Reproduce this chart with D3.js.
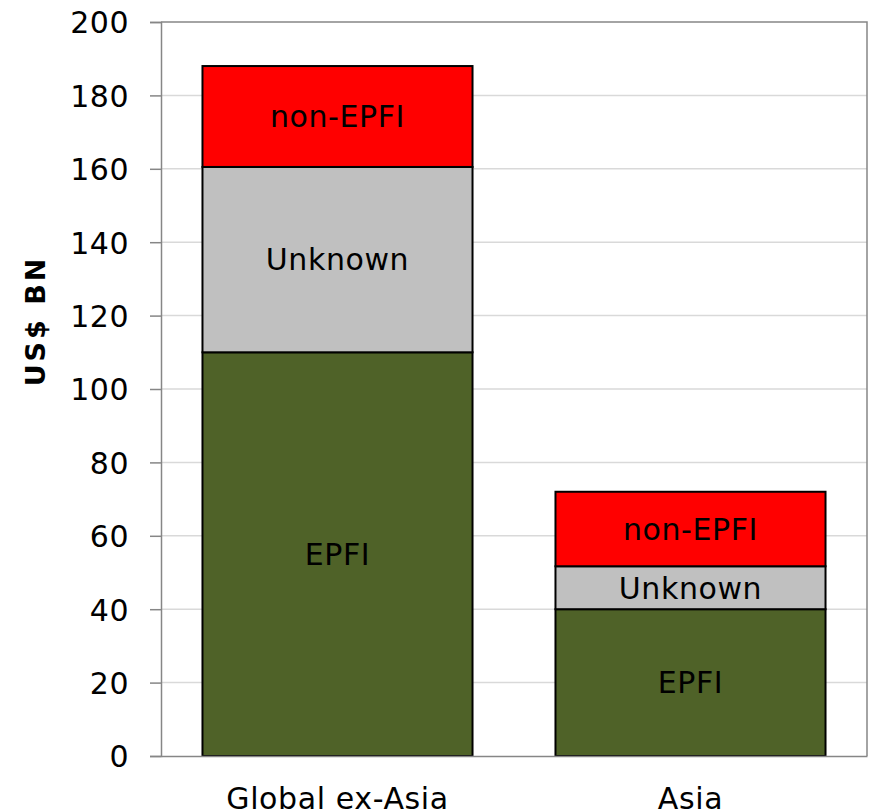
<!DOCTYPE html>
<html>
<head>
<meta charset="utf-8">
<script src="https://cdn.jsdelivr.net/npm/d3@7"></script>
<style>
    html, body { margin: 0; padding: 0; background: #fff; }
    svg { display: block; font-family: "DejaVu Sans", Verdana, sans-serif; }
</style>
</head>
<body>
<div id="chart"></div>
<script>
// values (US$ BN)
const categories = ["Global ex-Asia", "Asia"];
const seriesNames = ["EPFI", "Unknown", "non-EPFI"];
const epfi = [110, 40];
const unknown = [50.5, 11.7];
const nonEpfi = [27.5, 20.3];
const yTicks = [0, 20, 40, 60, 80, 100, 120, 140, 160, 180, 200];

const colors = { "EPFI": "#4f6228", "Unknown": "#c0c0c0", "non-EPFI": "#ff0000" };

const width = 873, height = 812;
const margin = { top: 22, right: 6, bottom: 56, left: 161 };

const svg = d3.select("#chart").append("svg")
    .attr("width", width)
    .attr("height", height);

const rows = categories.map((c, i) => ({
    category: c,
    "EPFI": epfi[i],
    "Unknown": unknown[i],
    "non-EPFI": nonEpfi[i]
}));

const stacked = d3.stack().keys(seriesNames)(rows);

const x = d3.scaleBand()
    .domain(categories)
    .range([margin.left, width - margin.right])
    .paddingInner(0.235)
    .paddingOuter(0.1175);

const y = d3.scaleLinear()
    .domain([0, 200])
    .range([height - margin.bottom, margin.top]);

// gridlines
svg.append("g")
    .selectAll("line")
    .data(yTicks.filter(t => t > 0 && t < 200))
    .join("line")
    .attr("x1", margin.left)
    .attr("x2", width - margin.right)
    .attr("y1", d => y(d))
    .attr("y2", d => y(d))
    .attr("stroke", "#d9d9d9")
    .attr("stroke-width", 1.5);

// plot border (top / right)
svg.append("path")
    .attr("d", `M${margin.left},${y(200)}H${width - margin.right}V${y(0)}`)
    .attr("fill", "none")
    .attr("stroke", "#868686")
    .attr("stroke-width", 1.5);

// bars
const layer = svg.append("g")
    .selectAll("g")
    .data(stacked)
    .join("g")
    .attr("fill", d => colors[d.key]);

layer.selectAll("rect")
    .data(d => d)
    .join("rect")
    .attr("x", d => x(d.data.category))
    .attr("width", x.bandwidth())
    .attr("y", d => y(d[1]))
    .attr("height", d => y(d[0]) - y(d[1]))
    .attr("stroke", "#000")
    .attr("stroke-width", 2);

// segment labels
layer.selectAll("text")
    .data(d => d.map(v => ({ key: d.key, v })))
    .join("text")
    .attr("x", d => x(d.v.data.category) + x.bandwidth() / 2)
    .attr("y", d => y((d.v[0] + d.v[1]) / 2))
    .attr("dy", "0.36em")
    .attr("text-anchor", "middle")
    .attr("fill", "#000")
    .style("font-size", "30px")
    .style("letter-spacing", "0.6px")
    .text(d => d.key);

// y axis
const yAxis = svg.append("g")
    .attr("transform", `translate(${margin.left},0)`)
    .call(d3.axisLeft(y).tickValues(yTicks).tickSize(11).tickPadding(0).tickFormat(d3.format("d")));

yAxis.select(".domain").attr("stroke", "#868686").attr("stroke-width", 1.5);
yAxis.selectAll(".tick line").attr("stroke", "#868686").attr("stroke-width", 1.5);
yAxis.selectAll(".tick text")
    .attr("x", -32)
    .attr("dy", "0.36em")
    .attr("fill", "#000")
    .style("font-size", "30px")
    .style("letter-spacing", "0.5px")
    .style("font-family", "DejaVu Sans, Verdana, sans-serif");

// x axis
const xAxis = svg.append("g")
    .attr("transform", `translate(0,${y(0)})`)
    .call(d3.axisBottom(x).tickSize(0).tickPadding(0));

xAxis.select(".domain").attr("stroke", "#868686").attr("stroke-width", 1.5);
xAxis.selectAll(".tick text")
    .attr("y", 53)
    .attr("dy", 0)
    .attr("fill", "#000")
    .style("font-size", "30px")
    .style("letter-spacing", "0.6px")
    .style("font-family", "DejaVu Sans, Verdana, sans-serif");

// y axis title
svg.append("text")
    .attr("transform", "translate(45,321) rotate(-90)")
    .attr("text-anchor", "middle")
    .style("font-size", "27px")
    .style("font-weight", "bold")
    .style("letter-spacing", "3px")
    .text("US$ BN");
</script>
</body>
</html>
